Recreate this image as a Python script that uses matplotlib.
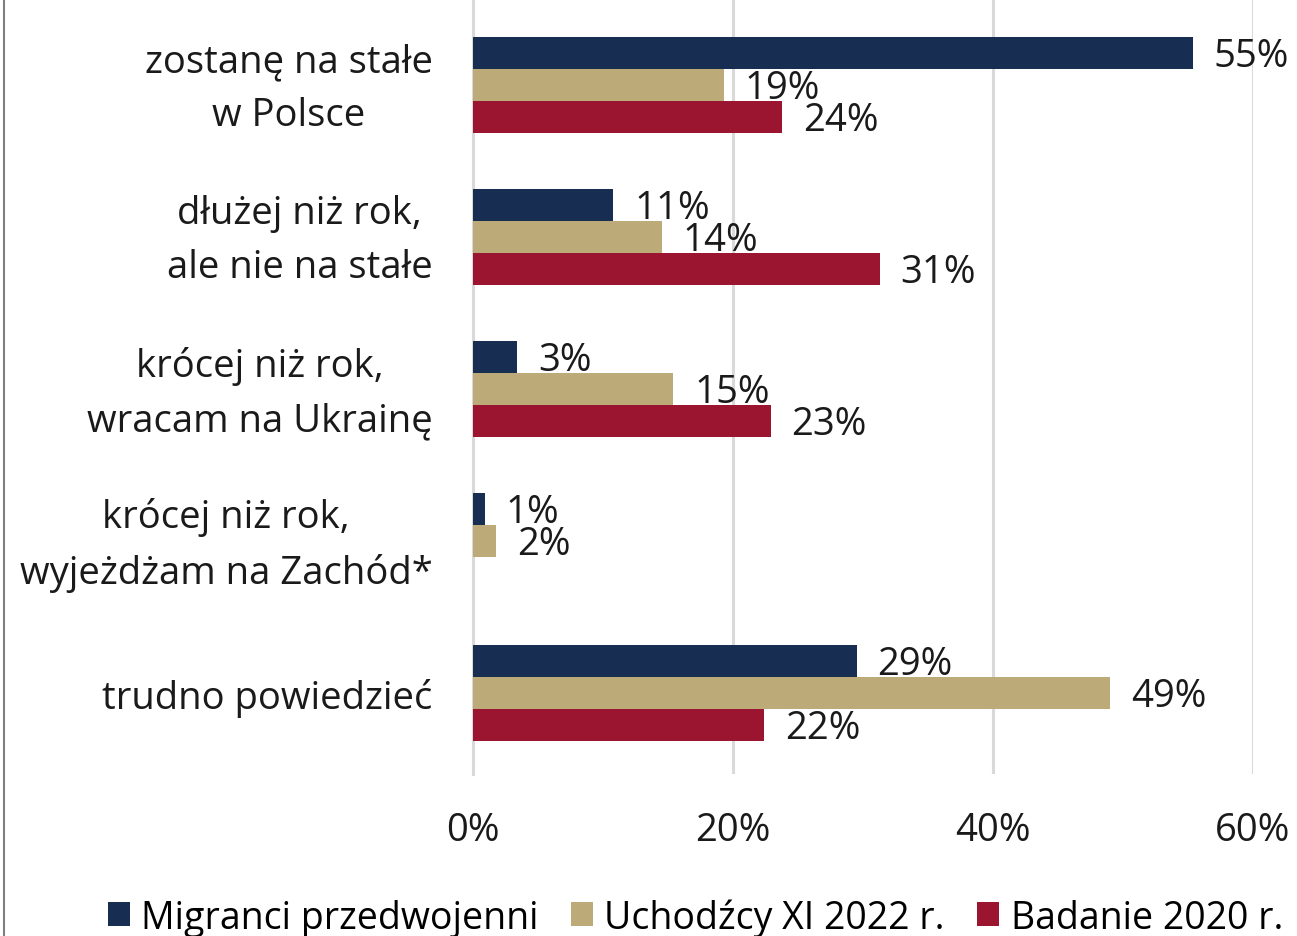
import matplotlib.pyplot as plt
import matplotlib.transforms as mtransforms
import numpy as np
from matplotlib.lines import Line2D

categories = ["zostanę na stałe\nw Polsce", "dłużej niż rok,\nale nie na stałe",
              "krócej niż rok,\nwracam na Ukrainę", "krócej niż rok,\nwyjeżdżam na Zachód*",
              "trudno powiedzieć"]
series_names = ["Migranci przedwojenni", "Uchodźcy XI 2022 r.", "Badanie 2020 r."]
migranci = [55.4, 10.8, 3.4, 0.9, 29.5]
uchodzcy = [19.3, 14.5, 15.4, 1.8, 49.0]
badanie = [23.8, 31.3, 22.9, 0.0, 22.4]
migranci_lbl = [55, 11, 3, 1, 29]
uchodzcy_lbl = [19, 14, 15, 2, 49]
badanie_lbl = [24, 31, 23, None, 22]
colors = ["#172e52", "#bcaa78", "#9b1530"]

plt.rcParams['font.family'] = ['Open Sans', 'DejaVu Sans']
fs = 27.5

fig = plt.figure(figsize=(12.97, 9.37), dpi=100)
ax = fig.add_axes([473/1297, 1 - 775/937, 780/1297, 775/937])

y = np.arange(len(categories))
h = 0.21
data = [migranci, uchodzcy, badanie]
labels = [migranci_lbl, uchodzcy_lbl, badanie_lbl]
for i, (vals, lbls) in enumerate(zip(data, labels)):
    pos = y + (i - 1) * h
    ax.barh(pos, vals, height=h, color=colors[i], label=series_names[i], zorder=3)
    for p, v, l in zip(pos, vals, lbls):
        if l is None:
            continue
        ax.text(v + 1.6, p + 0.02, f"{l}%", va="center", ha="left", fontsize=fs, color="#1a1a1a", zorder=4)

ax.set_xlim(0, 60)
ax.set_ylim(775/152 - 86/152, -86/152)
ax.set_xticks([0, 20, 40, 60])
ax.set_xticklabels(["0%", "20%", "40%", "60%"], fontsize=fs)
ax.set_yticks(y)
ax.set_yticklabels(categories, fontsize=fs, linespacing=1.55, multialignment="center")
ax.tick_params(axis="both", length=0, colors="#1a1a1a")
ax.tick_params(axis="x", pad=26.5)
ax.tick_params(axis="y", pad=29)
# two-line labels sit a bit low, nudge them up
shift = mtransforms.ScaledTranslation(0, 9/100, fig.dpi_scale_trans)
for t, name in zip(ax.get_yticklabels(), categories):
    if "\n" in name:
        t.set_transform(t.get_transform() + shift)
ax.grid(axis="x", color="#d9d9d9", linewidth=2.2, zorder=0)
for s in ["top", "right", "bottom"]:
    ax.spines[s].set_visible(False)
ax.spines["left"].set_color("#d9d9d9")
ax.spines["left"].set_linewidth(2.2)

fig.legend(loc="center", bbox_to_anchor=(0.536, 0.020), ncol=3, frameon=False, fontsize=27,
           handlelength=0.6, handleheight=0.6, handletextpad=0.3, columnspacing=0.85)

fig.add_artist(Line2D([4/1297, 4/1297], [0, 1], color="#808080", linewidth=1.5))

fig.savefig("out.png", dpi=100)
